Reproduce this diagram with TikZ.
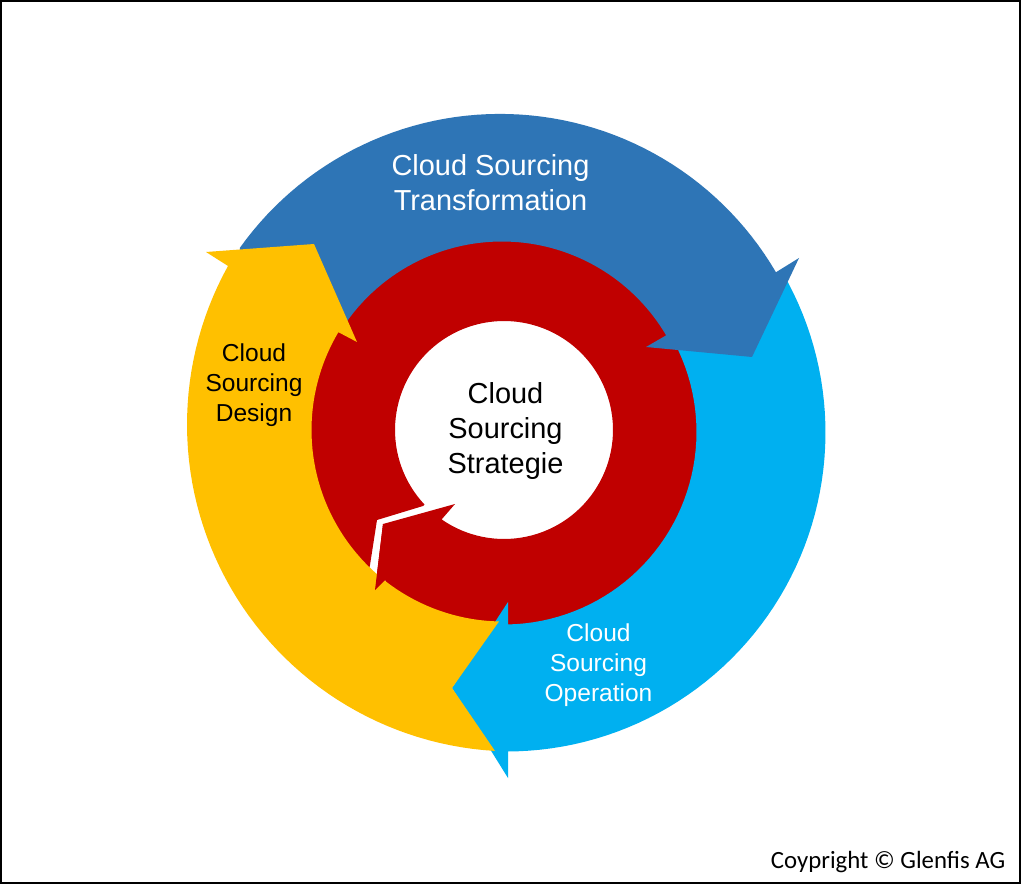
\documentclass[tikz,border=0pt]{standalone}
\usepackage{fontspec}
\setmainfont{Liberation Sans}
\newfontfamily\copyfont{Carlito}
\definecolor{cyanblue}{HTML}{00B0F0}
\definecolor{steelblue}{HTML}{2E75B6}
\definecolor{goldy}{HTML}{FFC000}
\definecolor{darkred}{HTML}{C00000}
\tikzset{
  bigtext/.style={align=center,inner sep=0pt,font=\fontsize{21.7}{26.2}\selectfont},
  smalltext/.style={align=center,inner sep=0pt,font=\fontsize{18.4}{22.5}\selectfont},
  blob/.style={line width=0pt,draw=none}
}
\begin{document}
\begin{tikzpicture}[x=0.75pt,y=-0.75pt]
\useasboundingbox (0,0) rectangle (1022,891);
\fill[white] (0,0) rectangle (1022,891);
\draw[black,line width=1.5pt] (1,1) rectangle (1019.5,882.5);
% red ring
\fill[darkred,blob] (370,565) -- (368.5,572)
  -- plot[domain=134:485,samples=90] ({504+195*cos(\x)},{432+195*sin(\x)})
  -- (385,580) -- (375,590) -- (383,524) -- (455,504) -- (442,519)
  -- plot[domain=124.9:-223.2,samples=120] ({504+109*cos(\x)},{430+109*sin(\x)})
  -- (423,506) -- (377,520) -- cycle;
% light blue arrow
\fill[cyanblue,blob] (508,623)
  -- plot[domain=88.8:-35,samples=50] ({504+192.5*cos(\x)},{432+192.5*sin(\x)})
  -- plot[domain=-30:90,samples=60] ({506.5+319*cos(\x)},{432.5+319*sin(\x)})
  -- (508,751) -- (508,778) -- (452,688) -- (508,602) -- cycle;
% dark blue arrow
\fill[steelblue,blob] (240,250)
  -- plot[domain=-144.5:-30.3,samples=60] ({500+319.6*cos(\x)},{433.5+319.6*sin(\x)})
  -- (799,258) -- (752,357) -- (646,347) -- (665,336)
  -- plot[domain=-30.5:-145,samples=60] ({502+190.5*cos(\x)},{432+190.5*sin(\x)})
  -- cycle;
% yellow arrow
\fill[goldy,blob] (206,252) -- (314,244) -- (357,342) -- (338,332)
  -- plot[domain=210.7:91.2,samples=60] ({503+191.5*cos(\x)},{430+191.5*sin(\x)})
  -- (452,688) -- (495,751)
  -- plot[domain=93.3:209,samples=60] ({514+327*cos(\x)},{424.5+327*sin(\x)})
  -- cycle;
% red arrow wing over yellow
\fill[darkred,blob] (383,524) -- (375,590) -- (385,580) -- (392,556) -- cycle;
% labels
\node[bigtext,text=white] (transformation) at (490.5,182.5) {Cloud Sourcing\\Transformation};
\node[bigtext,text=black] (strategie) at (505.5,431) {Cloud\\Sourcing\\Strategie};
\node[smalltext,text=black] (design) at (254,385) {Cloud\\Sourcing\\Design};
\node[smalltext,text=white] (operation) at (598.5,665) {Cloud\\Sourcing\\Operation};
\node[inner sep=0pt,anchor=east,font=\copyfont\fontsize{18.6}{22}\selectfont] (copyright) at (1005.5,862) {Coypright © Glenfis AG};
\end{tikzpicture}
\end{document}
